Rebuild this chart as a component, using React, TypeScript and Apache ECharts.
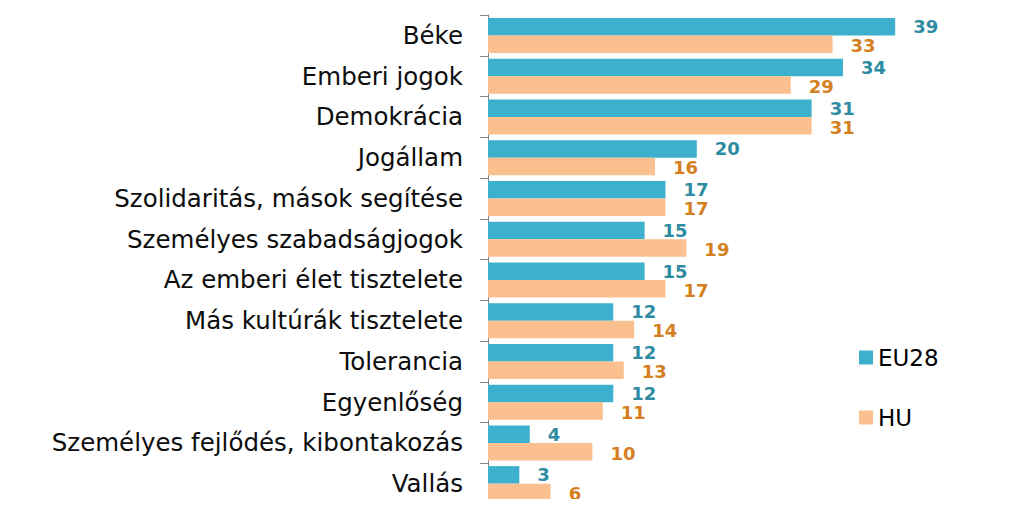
import React, { useEffect, useRef } from "react";
import * as echarts from "echarts";

const categories = [
  "Béke",
  "Emberi jogok",
  "Demokrácia",
  "Jogállam",
  "Szolidaritás, mások segítése",
  "Személyes szabadságjogok",
  "Az emberi élet tisztelete",
  "Más kultúrák tisztelete",
  "Tolerancia",
  "Egyenlőség",
  "Személyes fejlődés, kibontakozás",
  "Vallás",
];
const eu28 = [39, 34, 31, 20, 17, 15, 15, 12, 12, 12, 4, 3];
const hu = [33, 29, 31, 16, 17, 19, 17, 14, 13, 11, 10, 6];
const seriesNames = ["EU28", "HU"];

const FONT = "Verdana, DejaVu Sans, sans-serif";

export default function App() {
  const ref = useRef<HTMLDivElement>(null);
  useEffect(() => {
    if (!ref.current) return;
    const chart = echarts.init(ref.current, undefined, { renderer: "svg" });
    const labelStyle = (color: string, dy: number) => ({
      show: true,
      position: "right" as const,
      distance: 18,
      offset: [0, dy],
      color,
      fontFamily: FONT,
      fontWeight: "bold" as const,
      fontSize: 18,
    });
    chart.setOption({
      animation: false,
      grid: { left: 488, right: 118.4, top: 15, bottom: 3, containLabel: false },
      legend: {
        orient: "vertical",
        left: 854,
        top: 341,
        itemWidth: 14,
        itemHeight: 14,
        itemGap: 37,
        icon: "rect",
        textStyle: { fontFamily: FONT, fontSize: 23, color: "#000" },
        data: seriesNames,
      },
      xAxis: {
        type: "value",
        min: 0,
        max: 40,
        show: false,
      },
      yAxis: {
        type: "category",
        inverse: true,
        data: categories,
        axisLine: { show: true, lineStyle: { color: "#868686", width: 1 } },
        axisTick: { show: true, length: 8, lineStyle: { color: "#868686" } },
        axisLabel: {
          margin: 25,
          fontFamily: FONT,
          fontSize: 24.5,
          color: "#0d0d0d",
        },
      },
      series: [
        {
          name: seriesNames[0],
          type: "bar",
          data: eu28,
          barWidth: 17.5,
          barGap: "0%",
          itemStyle: { color: "#3cb0cc" },
          label: labelStyle("#2f8ba1", 0),
        },
        {
          name: seriesNames[1],
          type: "bar",
          data: hu,
          barWidth: 17.5,
          barGap: "0%",
          itemStyle: { color: "#fac08f" },
          label: labelStyle("#d47f22", 1.5),
        },
      ],
    });
    return () => chart.dispose();
  }, []);
  return <div ref={ref} style={{ width: 1024, height: 507, margin: -8 }} />;
}
